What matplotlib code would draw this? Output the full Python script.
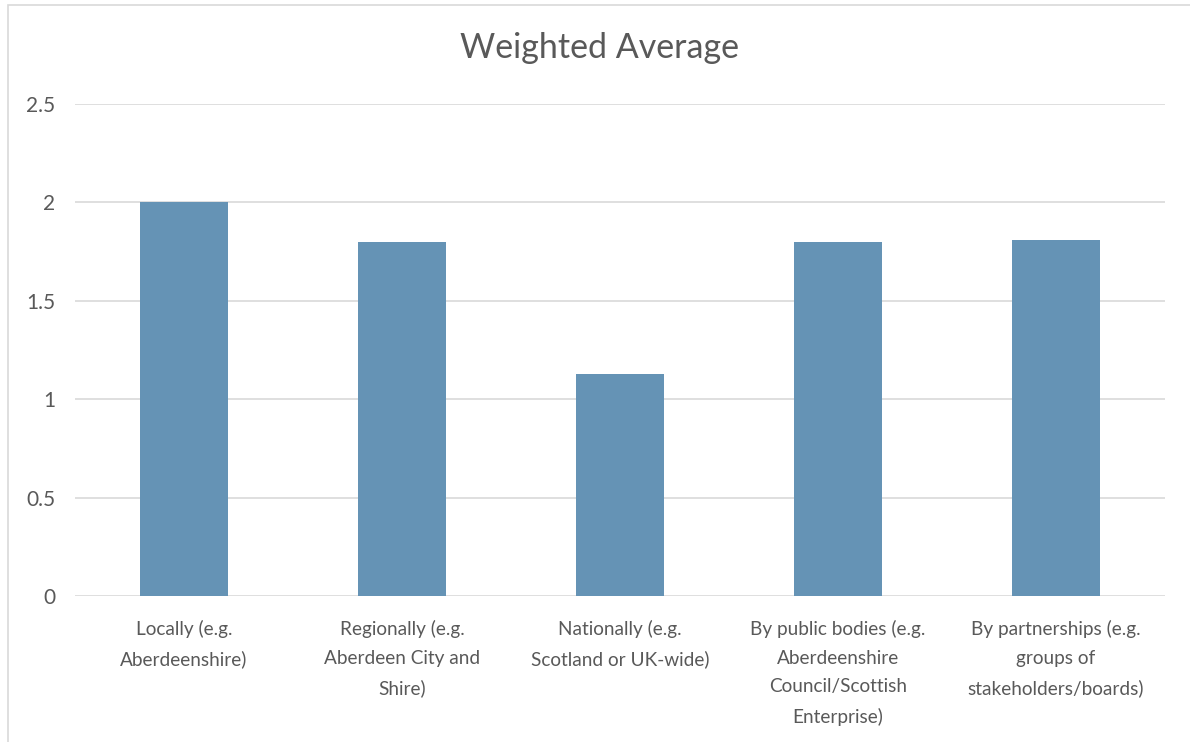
import matplotlib
matplotlib.use("Agg")
import matplotlib.pyplot as plt
from matplotlib.patches import Rectangle

categories = [
    "Locally (e.g.\nAberdeenshire)",
    "Regionally (e.g.\nAberdeen City and\nShire)",
    "Nationally (e.g.\nScotland or UK-wide)",
    "By public bodies (e.g.\nAberdeenshire\nCouncil/Scottish\nEnterprise)",
    "By partnerships (e.g.\ngroups of\nstakeholders/boards)",
]
values = [2.0, 1.80, 1.13, 1.80, 1.81]
yticks = [0, 0.5, 1, 1.5, 2, 2.5]
ytick_labels = ["0", "0.5", "1", "1.5", "2", "2.5"]
title = "Weighted Average"

TXT = "#595959"
FONT = "Lato"
plt.rcParams["font.family"] = [FONT, "DejaVu Sans"]

fig = plt.figure(figsize=(11.9, 7.42), dpi=100)
ax = fig.add_axes([75/1190, 1-596/742, 1090/1190, 492/742])

x = list(range(len(values)))
ax.bar(x, values, width=0.40, color="#6593B5", zorder=3)
ax.set_xlim(-0.5, len(values) - 0.5)
ax.set_ylim(0, 2.5)
ax.set_yticks(yticks)
ax.set_yticklabels(ytick_labels, color=TXT, fontsize=15)
ax.set_xticks(x)
ax.set_xticklabels(categories, color=TXT, fontsize=13.7, linespacing=1.85, va="top")
ax.tick_params(axis="both", length=0)
ax.tick_params(axis="x", pad=17)
ax.tick_params(axis="y", pad=14)
for lbl in ax.get_yticklabels():
    lbl.set_horizontalalignment("right")
ax.grid(axis="y", color="#D9D9D9", linewidth=1.2, zorder=0)
for s in ax.spines.values():
    s.set_visible(False)

fig.text(600/1190, 1-48/742, title, ha="center", va="center", fontsize=24.5, color=TXT)

fig.patches.append(Rectangle((8/1190, -0.01), 1.2, 1.0 - 5/742 + 0.01, transform=fig.transFigure,
                             fill=False, edgecolor="#D9D9D9", linewidth=1.2))

fig.savefig("out.png", dpi=100)
